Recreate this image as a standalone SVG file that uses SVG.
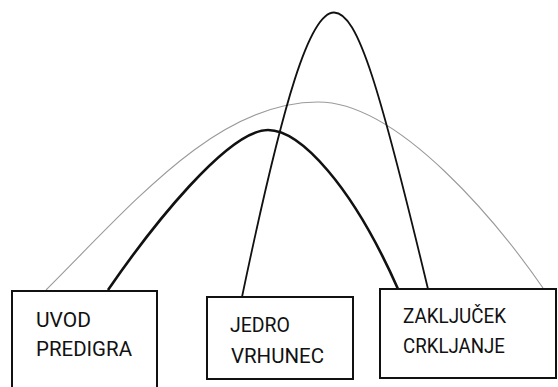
<svg xmlns="http://www.w3.org/2000/svg" width="558" height="387" viewBox="0 0 558 387">
<style>
.box{fill:#fff;stroke:#111;stroke-width:2}
.lbl{font-family:Roboto,"Liberation Sans",sans-serif;font-size:21px;fill:#111}
.thick{fill:none;stroke:#111;stroke-width:2.6}
.tall{fill:none;stroke:#111;stroke-width:1.8}
.gray{fill:none;stroke:#9a9a9a;stroke-width:1.1}
</style>
<rect width="558" height="387" fill="#fff"/>
<g id="connectors">
<path class="gray" d="M46,290 C136,200 218,102 318,102 C400,102 500,226 543,288"/>
<path class="thick" d="M108,290 C152,226 228,130 268,130 C300,130 352,185 398,289"/>
<path class="tall" d="M242,297 C284,96 310,12.5 334,12.5 C358,12.5 380,89 428,289"/>
</g>
<g id="uvod">
<rect class="box" x="12" y="291" width="145" height="110"/>
<text class="lbl" x="36" y="327" textLength="55" lengthAdjust="spacingAndGlyphs">UVOD</text>
<text class="lbl" x="36" y="356" textLength="96" lengthAdjust="spacingAndGlyphs">PREDIGRA</text>
</g>
<g id="jedro">
<rect class="box" x="207" y="297" width="146" height="82"/>
<text class="lbl" x="230" y="332" textLength="60" lengthAdjust="spacingAndGlyphs">JEDRO</text>
<text class="lbl" x="231" y="363" textLength="93" lengthAdjust="spacingAndGlyphs">VRHUNEC</text>
</g>
<g id="zakljucek">
<rect class="box" x="380" y="289" width="176" height="89"/>
<text class="lbl" x="403" y="323" textLength="103" lengthAdjust="spacingAndGlyphs">ZAKLJUČEK</text>
<text class="lbl" x="403" y="353" textLength="102" lengthAdjust="spacingAndGlyphs">CRKLJANJE</text>
</g>
</svg>
